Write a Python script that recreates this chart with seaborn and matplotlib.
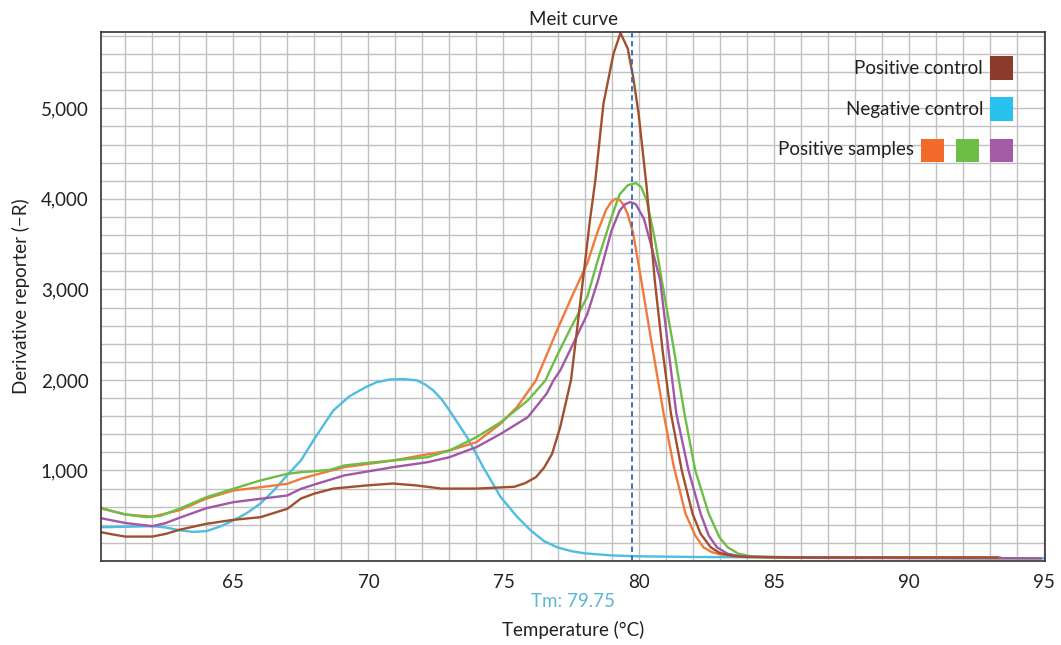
import pandas as pd
import seaborn as sns
import matplotlib.pyplot as plt
from matplotlib.patches import Rectangle
from matplotlib.ticker import MultipleLocator, FuncFormatter

# Melt curve readings (temperature in °C, derivative reporter -R)
neg_t = [60.1, 61, 62, 62.5, 63, 63.5, 64, 64.5, 65, 65.5, 66, 66.5, 67, 67.5, 68, 68.7, 69.3, 69.9,
         70.3, 70.8, 71.3, 71.8, 72.1, 72.4, 72.7, 73.0, 73.65, 74.25, 74.9, 75.5, 76, 76.5, 77, 77.5,
         78, 79, 80, 82, 85, 90, 95]
neg_v = [373, 378, 385, 370, 340, 322, 330, 380, 448, 530, 635, 780, 950, 1111, 1350, 1663, 1820, 1920,
         1975, 2005, 2010, 1995, 1950, 1884, 1790, 1663, 1368, 1036, 705, 490, 340, 220, 150, 110,
         85, 62, 52, 45, 40, 35, 30]

pos_t = [60.1, 60.6, 61, 62, 62.5, 63, 64, 65, 66, 67, 67.5, 68, 68.7, 69.9, 70.9, 71.8, 72.7, 74,
         75.4, 75.8, 76.2, 76.5, 76.8, 77.1, 77.5, 78, 78.2, 78.4, 78.7, 79.07, 79.33, 79.6, 79.8, 80.0,
         80.3, 80.6, 80.9, 81.2, 81.6, 82.0, 82.3, 82.67, 83.0, 83.5, 84, 86, 90, 93.3]
pos_v = [318, 290, 270, 270, 300, 345, 411, 455, 484, 577, 690, 745, 800, 834, 856, 834, 800, 800,
         820, 860, 926, 1030, 1185, 1479, 2000, 3250, 3762, 4204, 5050, 5600, 5832, 5660, 5345, 4945,
         4130, 3100, 2300, 1626, 1000, 521, 300, 152, 90, 55, 45, 40, 40, 40]

s1_t = [60.1, 61, 62, 63, 64, 65, 66, 67, 67.5, 68, 69.1, 70.9, 73, 74, 74.9, 75.5, 76.2, 77, 77.5,
        78.1, 78.5, 78.8, 79.0, 79.15, 79.3, 79.45, 79.6, 79.8, 80.1, 80.5, 80.93, 81.3, 81.74, 82.1,
        82.4, 82.7, 83, 83.5, 84, 86, 90, 93.4]
s1_v = [583, 514, 490, 560, 690, 779, 815, 853, 908, 950, 1036, 1110, 1221, 1313, 1519, 1700, 1994,
        2560, 2900, 3287, 3650, 3880, 3970, 4000, 3990, 3930, 3830, 3620, 3100, 2380, 1626, 1050, 521,
        280, 152, 100, 75, 55, 45, 40, 40, 40]

s2_t = [60.1, 61, 61.8, 62.3, 63, 64, 65, 66, 67, 67.5, 68, 68.6, 69.1, 70, 70.9, 72.2, 73, 74, 74.9,
        75.9, 76.55, 77, 77.5, 78.1, 78.5, 79.0, 79.3, 79.6, 79.9, 80.1, 80.3, 80.6, 80.86, 81.3, 81.7,
        82.1, 82.6, 83.0, 83.3, 83.7, 84.2, 86, 90, 94.9]
s2_v = [583, 514, 484, 500, 577, 705, 798, 890, 963, 981, 992, 1008, 1055, 1085, 1110, 1147, 1221,
        1368, 1534, 1773, 1994, 2280, 2580, 2917, 3330, 3800, 4050, 4150, 4175, 4130, 3983, 3560, 3100,
        2350, 1626, 1000, 521, 260, 152, 80, 50, 40, 35, 30]

s3_t = [60.1, 61, 62, 62.5, 63, 64, 65, 66, 67, 67.5, 68, 69.1, 70.9, 72.2, 73, 74, 74.9, 75.9, 76.6,
        76.85, 77.1, 77.5, 78.1, 78.5, 79.0, 79.3, 79.5, 79.7, 79.9, 80.2, 80.5, 80.8, 81.1, 81.4,
        81.85, 82.3, 82.6, 82.9, 83.3, 83.8, 86, 90, 94.9]
s3_v = [473, 420, 385, 420, 477, 583, 650, 687, 724, 797, 845, 945, 1036, 1092, 1147, 1258, 1405,
        1589, 1850, 1994, 2105, 2350, 2725, 3100, 3650, 3870, 3940, 3965, 3940, 3780, 3450, 3100, 2350,
        1626, 1000, 521, 280, 152, 80, 50, 35, 32, 30]

series_names = ["Negative control", "Sample 1", "Sample 2", "Sample 3", "Positive control"]
series_data = [(neg_t, neg_v), (s1_t, s1_v), (s2_t, s2_v), (s3_t, s3_v), (pos_t, pos_v)]
line_colors = ["#4dbde2", "#f07a3c", "#6dbd47", "#a158a6", "#a0502f"]

tm_value = 79.75

frames = []
for name, (t, v) in zip(series_names, series_data):
    frames.append(pd.DataFrame({"Temperature": t, "Reporter": v, "series": name}))
df = pd.concat(frames, ignore_index=True)

sns.set_style("whitegrid")
plt.rcParams["font.family"] = ["Lato", "DejaVu Sans"]

fig = plt.figure(figsize=(10.61, 6.45), dpi=100)
ax = fig.add_axes([0.0952, 0.1302, 0.8898, 0.8198])

sns.lineplot(data=df, x="Temperature", y="Reporter", hue="series", hue_order=series_names,
             palette=dict(zip(series_names, line_colors)), estimator=None, sort=False,
             linewidth=1.7, legend=False, ax=ax)

ax.axvline(tm_value, color="#2f63c2", linestyle=(0, (3, 2)), linewidth=1.3, zorder=5)

ax.set_xlim(60.1, 95.05)
ax.set_ylim(0, 5840)
ax.xaxis.set_major_locator(MultipleLocator(5))
ax.xaxis.set_minor_locator(MultipleLocator(1))
ax.yaxis.set_major_locator(MultipleLocator(1000))
ax.yaxis.set_minor_locator(MultipleLocator(200))
ax.yaxis.set_major_formatter(FuncFormatter(lambda v, p: "" if v == 0 else f"{int(v):,}"))

ax.grid(True, which="both", color="#c0c0c0", linewidth=1.0)
ax.set_axisbelow(True)
for sp in ax.spines.values():
    sp.set_color("#333333")
    sp.set_linewidth(1.2)
ax.tick_params(axis="both", which="major", length=5, width=1, color="#333333",
               labelsize=13.5, labelcolor="#222222", pad=4)
ax.tick_params(axis="both", which="minor", length=0)

ax.set_xlabel("Temperature (°C)", fontsize=13.5, color="#222222", labelpad=22)
ax.set_ylabel("Derivative reporter (\u2212R)", fontsize=13.5, color="#222222", labelpad=8)
ax.set_title("Meit curve", fontsize=13.5, color="#222222", pad=5)
ax.text(0.5, -0.077, f"Tm: {tm_value}", transform=ax.transAxes, ha="center", va="center",
        fontsize=13.5, color="#5ab8d6")

# custom legend with coloured squares (pixel layout of the original)
W, H = 1061, 645
legend_rows = [
    ("Positive control", 68, ["#8b3a2b"]),
    ("Negative control", 109, ["#29c2ee"]),
    ("Positive samples", 150, ["#f26a2c", "#6cbf44", "#a45ba5"]),
]
for label, yc, cols in legend_rows:
    x_right = 1013
    for c in reversed(cols):
        fig.add_artist(Rectangle(((x_right - 23) / W, 1 - (yc + 11.5) / H), 23 / W, 23 / H,
                                 transform=fig.transFigure, color=c, lw=0))
        x_right -= 34.5
    fig.text((x_right + 34.5 - 23 - 7) / W, 1 - yc / H, label, ha="right", va="center",
             fontsize=13.5, color="#222222")

plt.savefig("out.png", dpi=100)
plt.close()
